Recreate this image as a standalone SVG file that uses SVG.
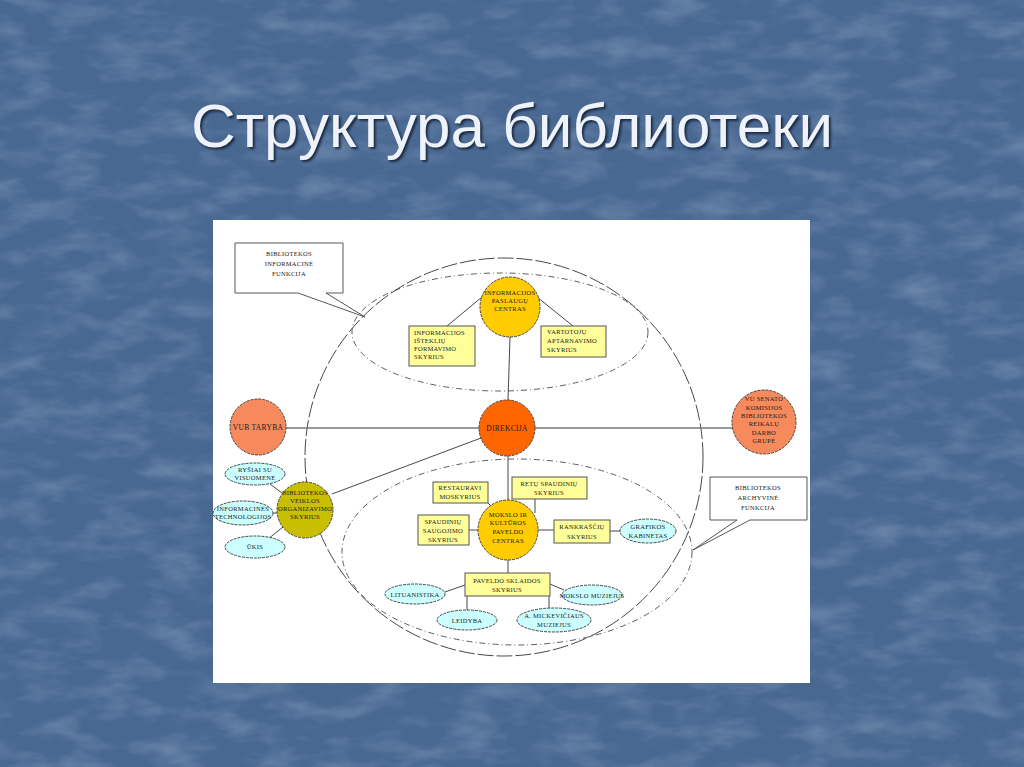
<svg xmlns="http://www.w3.org/2000/svg" width="1024" height="767" viewBox="0 0 1024 767">
<defs>
<filter id="tex" x="0" y="0" width="100%" height="100%">
<feTurbulence type="fractalNoise" baseFrequency="0.02 0.05" numOctaves="4" seed="7" result="n"/>
<feColorMatrix in="n" type="matrix" values="0 0 0 0 0.85  0 0 0 0 0.9  0 0 0 0 1  0 0 0 0.4 -0.17"/>
</filter>
<filter id="sh" x="-5%" y="-5%" width="110%" height="120%">
<feGaussianBlur stdDeviation="1"/>
</filter>
<style>
.t{font-family:"Liberation Serif","DejaVu Serif",serif;font-size:6.5px;fill:#1a1a1a;text-anchor:middle;letter-spacing:0.3px}
.tl{text-anchor:start}
.big{font-size:7.5px}
.box{fill:#ffff99;stroke:#555;stroke-width:1}
.ell{fill:#ccffff;stroke:#333;stroke-width:0.9;stroke-dasharray:3 1}
.gold{fill:#ffcc00;stroke:#333;stroke-width:0.9;stroke-dasharray:3 1}
.olive{fill:#c8bf00;stroke:#333;stroke-width:0.9;stroke-dasharray:3 1}
.red{fill:#ff6600;stroke:#333;stroke-width:0.9;stroke-dasharray:3 1}
.coral{fill:#f68a5c;stroke:#333;stroke-width:0.9;stroke-dasharray:3 1}
.ln{stroke:#333;stroke-width:0.9;fill:none}
.call{fill:#fff;stroke:#444;stroke-width:0.9}
</style>
</defs>
<rect x="0" y="0" width="1024" height="767" fill="#486892"/>
<rect x="0" y="0" width="1024" height="767" filter="url(#tex)"/>
<text x="514" y="149" font-family="Liberation Sans, Arial, sans-serif" font-size="62" fill="#1c2a40" text-anchor="middle" filter="url(#sh)">Структура библиотеки</text>
<text x="512" y="147" font-family="Liberation Sans, Arial, sans-serif" font-size="62" fill="#eef2fa" text-anchor="middle">Структура библиотеки</text>
<rect x="213" y="220" width="597" height="463" fill="#ffffff"/>

<g id="connectors">
<circle cx="504" cy="457" r="199" fill="none" stroke="#333" stroke-width="0.9" stroke-dasharray="16 3"/>
<ellipse cx="500" cy="332" rx="148" ry="59" fill="none" stroke="#333" stroke-width="0.8" stroke-dasharray="6 3 1 3"/>
<ellipse cx="517" cy="552" rx="175" ry="93" fill="none" stroke="#333" stroke-width="0.8" stroke-dasharray="6 3 1 3"/>
<line x1="286" y1="428" x2="733" y2="428" stroke="#777" stroke-width="1.5"/>
<line class="ln" x1="510" y1="337" x2="508" y2="400"/>
<line class="ln" x1="447" y1="326" x2="482" y2="297"/>
<line class="ln" x1="537" y1="297" x2="573" y2="326"/>
<line class="ln" x1="332" y1="494" x2="481" y2="438"/>
<line class="ln" x1="508" y1="456" x2="508" y2="500"/>
<line class="ln" x1="270" y1="484" x2="282" y2="493"/>
<line class="ln" x1="273" y1="513" x2="277" y2="513"/>
<line class="ln" x1="268" y1="539" x2="283" y2="527"/>
<line class="ln" x1="488" y1="503" x2="495" y2="510"/>
<line class="ln" x1="535" y1="499" x2="535" y2="513"/>
<line class="ln" x1="469" y1="530" x2="478" y2="530"/>
<line class="ln" x1="538" y1="530" x2="554" y2="530"/>
<line class="ln" x1="610" y1="531" x2="620" y2="531"/>
<line class="ln" x1="508" y1="560" x2="508" y2="573"/>
<line class="ln" x1="445" y1="592" x2="465" y2="585"/>
<line class="ln" x1="550" y1="584" x2="564" y2="590"/>
<line class="ln" x1="467" y1="596" x2="467" y2="610"/>
<line class="ln" x1="549" y1="596" x2="549" y2="608"/>
</g>

<g id="callout-info">
<path class="call" d="M235,243 H343 V293 H326 L365,317 L298,293 H235 Z"/>
<text class="t" x="289" y="256">BIBLIOTEKOS</text>
<text class="t" x="289" y="266">INFORMACINĖ</text>
<text class="t" x="289" y="276">FUNKCIJA</text>
</g>
<g id="callout-archive">
<path class="call" d="M710,477 H807 V520 H750 L693,550 L737,520 H710 Z"/>
<text class="t" x="758" y="490">BIBLIOTEKOS</text>
<text class="t" x="758" y="500">ARCHYVINĖ</text>
<text class="t" x="758" y="510">FUNKCIJA</text>
</g>

<g id="info-centras">
<circle class="gold" cx="510" cy="307" r="30"/>
<text class="t" x="510" y="295">INFORMACIJOS</text>
<text class="t" x="510" y="303">PASLAUGŲ</text>
<text class="t" x="510" y="311">CENTRAS</text>
</g>
<g id="istekliu">
<rect class="box" x="409" y="326" width="66" height="40"/>
<text class="t tl" x="414" y="335">INFORMACIJOS</text>
<text class="t tl" x="414" y="343">IŠTEKLIŲ</text>
<text class="t tl" x="414" y="351">FORMAVIMO</text>
<text class="t tl" x="414" y="359">SKYRIUS</text>
</g>
<g id="vartotoju">
<rect class="box" x="541" y="326" width="65" height="31"/>
<text class="t tl" x="547" y="334">VARTOTOJŲ</text>
<text class="t tl" x="547" y="343">APTARNAVIMO</text>
<text class="t tl" x="547" y="352">SKYRIUS</text>
</g>
<g id="direkcija">
<circle class="red" cx="507" cy="428" r="28"/>
<text class="t big" x="507" y="431">DIREKCIJA</text>
</g>
<g id="vub-taryba">
<circle class="coral" cx="258" cy="427" r="28"/>
<text class="t big" x="258" y="430">VUB TARYBA</text>
</g>
<g id="vu-senato">
<circle class="coral" cx="764" cy="422" r="32"/>
<text class="t" x="764" y="401">VU SENATO</text>
<text class="t" x="764" y="410">KOMISIJOS</text>
<text class="t" x="764" y="418">BIBLIOTEKOS</text>
<text class="t" x="764" y="426">REIKALŲ</text>
<text class="t" x="764" y="435">DARBO</text>
<text class="t" x="764" y="443">GRUPĖ</text>
</g>
<g id="veiklos">
<circle class="olive" cx="305" cy="510" r="28"/>
<text class="t" x="305" y="495">BIBLIOTEKOS</text>
<text class="t" x="305" y="503">VEIKLOS</text>
<text class="t" x="305" y="511">ORGANIZAVIMO</text>
<text class="t" x="305" y="519">SKYRIUS</text>
</g>
<g id="rysiai">
<ellipse class="ell" cx="255" cy="474" rx="30" ry="11"/>
<text class="t" x="255" y="472">RYŠIAI SU</text>
<text class="t" x="255" y="480">VISUOMENĖ</text>
</g>
<g id="it">
<ellipse class="ell" cx="243" cy="513" rx="30" ry="12"/>
<text class="t" x="243" y="511">INFORMACINĖS</text>
<text class="t" x="243" y="519">TECHNOLOGIJOS</text>
</g>
<g id="ukis">
<ellipse class="ell" cx="255" cy="547" rx="30" ry="11"/>
<text class="t" x="255" y="549">ŪKIS</text>
</g>
<g id="mokslo-centras">
<circle class="gold" cx="508" cy="530" r="30"/>
<text class="t" x="508" y="517">MOKSLO IR</text>
<text class="t" x="508" y="525">KULTŪROS</text>
<text class="t" x="508" y="534">PAVELDO</text>
<text class="t" x="508" y="543">CENTRAS</text>
</g>
<g id="restauravimo">
<rect class="box" x="433" y="482" width="55" height="21"/>
<text class="t" x="460" y="490">RESTAURAVI</text>
<text class="t" x="460" y="499">MOSKYRIUS</text>
</g>
<g id="retu">
<rect class="box" x="512" y="477" width="75" height="22"/>
<text class="t" x="549" y="486">RETŲ SPAUDINIŲ</text>
<text class="t" x="549" y="495">SKYRIUS</text>
</g>
<g id="saugojimo">
<rect class="box" x="418" y="515" width="51" height="30"/>
<text class="t" x="443" y="524">SPAUDINIŲ</text>
<text class="t" x="443" y="533">SAUGOJIMO</text>
<text class="t" x="443" y="542">SKYRIUS</text>
</g>
<g id="rankrasciu">
<rect class="box" x="554" y="520" width="56" height="23"/>
<text class="t" x="582" y="529">RANKRAŠČIŲ</text>
<text class="t" x="582" y="539">SKYRIUS</text>
</g>
<g id="grafikos">
<ellipse class="ell" cx="648" cy="531" rx="28" ry="12"/>
<text class="t" x="648" y="529">GRAFIKOS</text>
<text class="t" x="648" y="538">KABINETAS</text>
</g>
<g id="sklaidos">
<rect class="box" x="465" y="573" width="85" height="23"/>
<text class="t" x="507" y="583">PAVELDO SKLAIDOS</text>
<text class="t" x="507" y="592">SKYRIUS</text>
</g>
<g id="lituanistika">
<ellipse class="ell" cx="415" cy="594" rx="30" ry="10"/>
<text class="t" x="415" y="597">LITUANISTIKA</text>
</g>
<g id="mokslo-muziejus">
<ellipse class="ell" cx="592" cy="595" rx="30" ry="10"/>
<text class="t" x="592" y="598">MOKSLO MUZIEJUS</text>
</g>
<g id="leidyba">
<ellipse class="ell" cx="467" cy="620" rx="30" ry="10"/>
<text class="t" x="467" y="623">LEIDYBA</text>
</g>
<g id="mickeviciaus">
<ellipse class="ell" cx="554" cy="620" rx="37" ry="12"/>
<text class="t" x="554" y="618">A. MICKEVIČIAUS</text>
<text class="t" x="554" y="627">MUZIEJUS</text>
</g>
</svg>
